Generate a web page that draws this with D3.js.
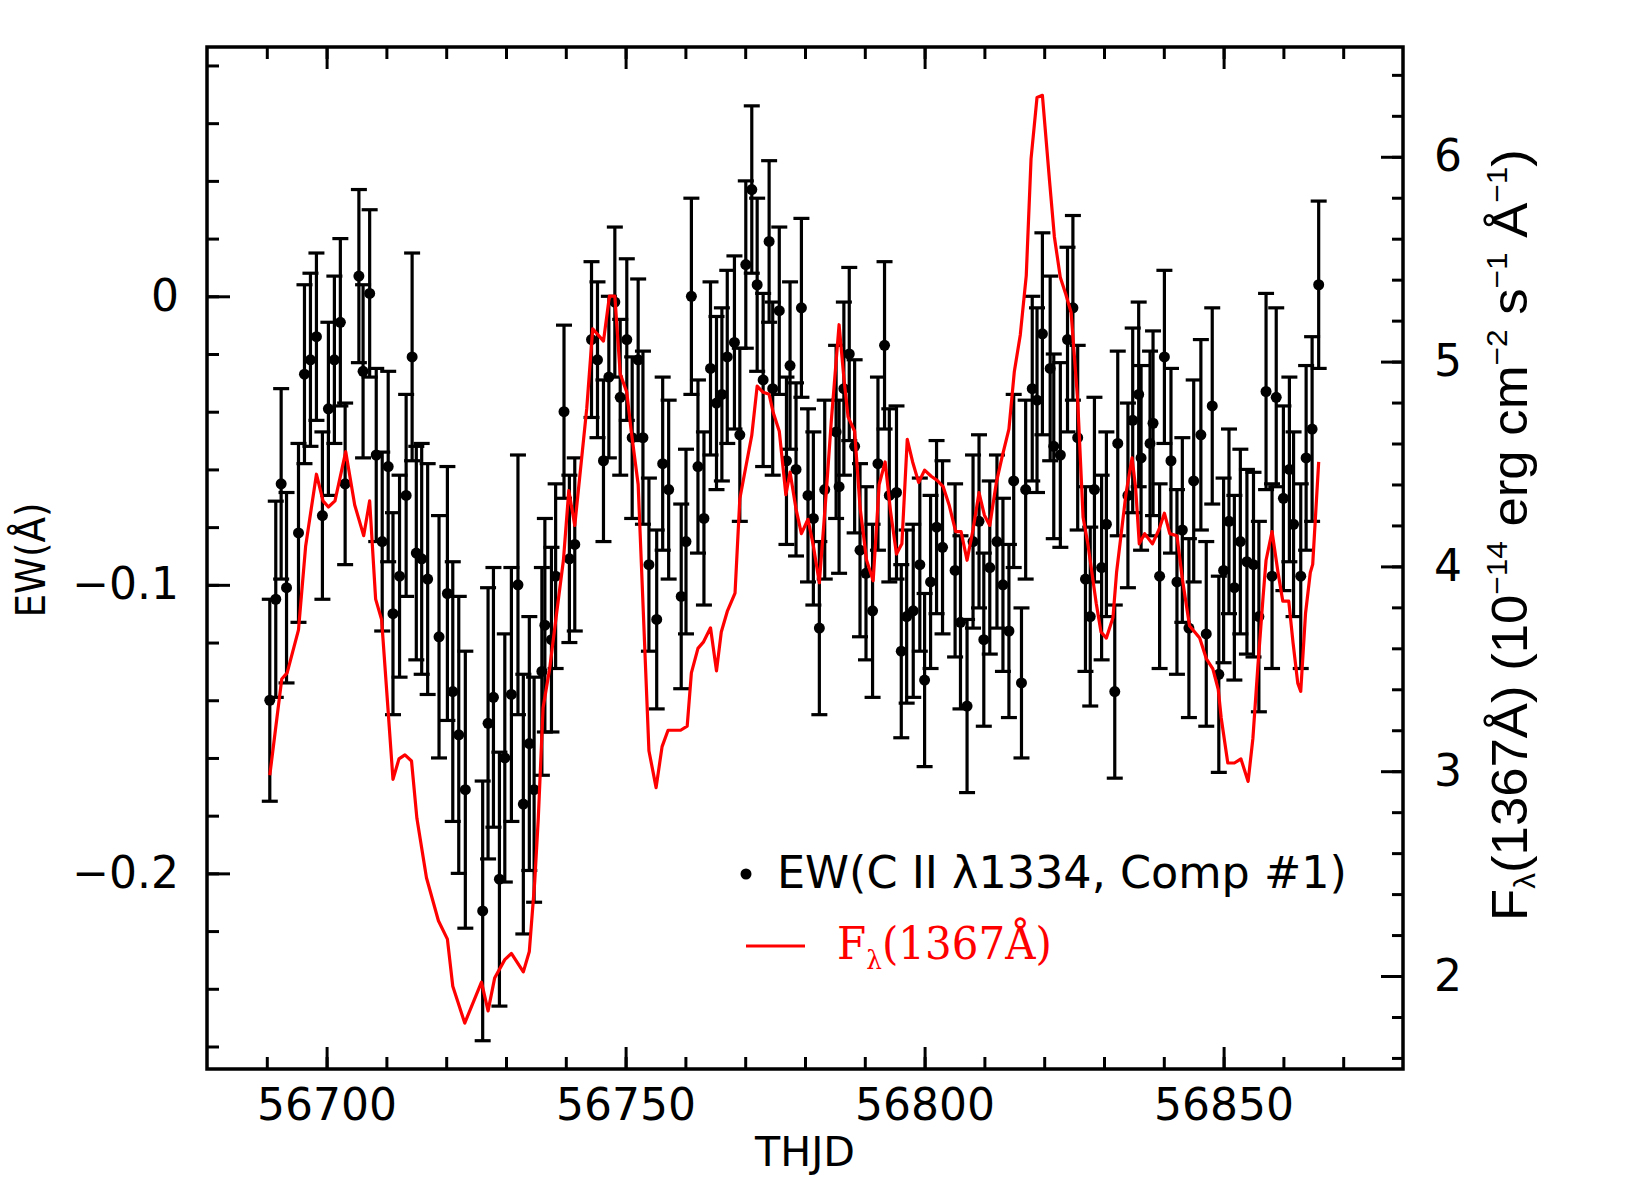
<!DOCTYPE html>
<html>
<head>
<meta charset="utf-8">
<script src="https://cdn.jsdelivr.net/npm/d3@7"></script>
<style>
  body { margin: 0; background: #fff; }
  svg { display: block; }
</style>
</head>
<body>
<svg id="chart" width="1650" height="1198"></svg>
<script>
// EW of C II 1334 component #1
var ewDays = [56690.5, 56691.5, 56692.4, 56693.3, 56695.3, 56696.3, 56697.3, 56698.3, 56699.3, 56700.3,
    56701.3, 56702.3, 56703.1, 56705.4, 56706.1, 56707.2, 56708.3, 56709.3, 56710.3, 56711.1,
    56712.2, 56713.3, 56714.3, 56715.0, 56715.9, 56716.9, 56718.8, 56720.2, 56721.1, 56722.1,
    56723.2, 56726.1, 56727.0, 56727.9, 56728.9, 56729.8, 56730.9, 56732.0, 56732.9, 56733.9,
    56734.7, 56736.0, 56736.5, 56737.6, 56738.3, 56739.7, 56740.6, 56741.5, 56744.3, 56745.3,
    56746.3, 56747.2, 56748.2, 56749.1, 56750.2, 56751.1, 56752.1, 56752.9, 56753.9, 56755.2,
    56756.2, 56757.2, 56759.3, 56760.1, 56761.0, 56762.1, 56763.1, 56764.2, 56765.2, 56766.1,
    56767.0, 56768.2, 56769.1, 56770.1, 56771.1, 56772.0, 56773.0, 56774.0, 56774.6, 56775.7,
    56776.9, 56777.5, 56778.5, 56779.4, 56780.5, 56781.4, 56782.4, 56783.3, 56785.2, 56785.7,
    56786.5, 56787.4, 56788.3, 56789.2, 56790.2, 56791.3, 56792.2, 56793.3, 56794.1, 56795.3,
    56796.1, 56797.0, 56798.1, 56799.2, 56800.0, 56801.0, 56802.0, 56803.0, 56805.1, 56806.0,
    56807.1, 56808.1, 56809.1, 56809.9, 56810.9, 56812.1, 56813.1, 56814.1, 56814.9, 56816.2,
    56816.9, 56818.0, 56818.8, 56819.7, 56821.0, 56821.6, 56822.7, 56823.9, 56824.8, 56825.6,
    56826.9, 56827.7, 56828.4, 56829.6, 56830.4, 56831.8, 56832.3, 56834.0, 56834.8, 56835.8,
    56836.2, 56837.7, 56838.2, 56839.3, 56840.1, 56841.2, 56842.2, 56843.1, 56844.2, 56845.0,
    56846.2, 56847.1, 56848.1, 56849.2, 56850.0, 56850.9, 56851.8, 56852.8, 56853.9, 56855.0,
    56855.9, 56857.1, 56858.1, 56858.8, 56860.0, 56861.0, 56861.7, 56862.9, 56863.8, 56864.8,
    56865.9];

var ewValues = [-0.140, -0.105, -0.065, -0.101, -0.082, -0.027, -0.022, -0.014, -0.076, -0.039,
    -0.022, -0.009, -0.065, 0.007, -0.026, 0.001, -0.055, -0.085, -0.059, -0.110,
    -0.097, -0.069, -0.021, -0.089, -0.091, -0.098, -0.118, -0.103, -0.137, -0.152,
    -0.171, -0.213, -0.148, -0.139, -0.202, -0.160, -0.138, -0.100, -0.176, -0.155,
    -0.171, -0.130, -0.114, -0.119, -0.097, -0.040, -0.091, -0.086, -0.015, -0.022,
    -0.057, -0.028, -0.002, -0.035, -0.015, -0.049, -0.022, -0.049, -0.093, -0.112,
    -0.058, -0.067, -0.104, -0.085, 0.000, -0.059, -0.077, -0.025, -0.037, -0.034,
    -0.021, -0.016, -0.048, 0.011, 0.037, 0.004, -0.029, 0.019, -0.032, -0.005,
    -0.057, -0.024, -0.060, -0.004, -0.069, -0.077, -0.115, -0.067, -0.047, -0.066,
    -0.032, -0.020, -0.052, -0.088, -0.096, -0.109, -0.058, -0.017, -0.069, -0.068,
    -0.123, -0.111, -0.109, -0.093, -0.133, -0.099, -0.080, -0.087, -0.095, -0.113,
    -0.142, -0.085, -0.078, -0.119, -0.094, -0.085, -0.100, -0.116, -0.064, -0.134,
    -0.067, -0.032, -0.036, -0.013, -0.025, -0.052, -0.055, -0.015, -0.004, -0.049,
    -0.098, -0.111, -0.067, -0.094, -0.079, -0.137, -0.051, -0.069, -0.043, -0.034,
    -0.056, -0.051, -0.044, -0.097, -0.021, -0.057, -0.099, -0.081, -0.115, -0.064,
    -0.048, -0.117, -0.038, -0.131, -0.095, -0.078, -0.101, -0.085, -0.092, -0.093,
    -0.111, -0.033, -0.097, -0.035, -0.070, -0.060, -0.079, -0.097, -0.056, -0.046,
    0.004];

var ewErrors = [0.035, 0.034, 0.033, 0.033, 0.031, 0.031, 0.030, 0.029, 0.029, 0.030,
    0.029, 0.029, 0.028, 0.030, 0.030, 0.029, 0.030, 0.031, 0.033, 0.035,
    0.035, 0.035, 0.036, 0.037, 0.040, 0.040, 0.042, 0.044, 0.045, 0.048,
    0.048, 0.045, 0.047, 0.045, 0.044, 0.043, 0.044, 0.045, 0.045, 0.044,
    0.039, 0.036, 0.037, 0.032, 0.032, 0.030, 0.029, 0.030, 0.027, 0.027,
    0.028, 0.028, 0.026, 0.027, 0.028, 0.028, 0.028, 0.030, 0.030, 0.031,
    0.030, 0.031, 0.032, 0.032, 0.034, 0.030, 0.030, 0.030, 0.030, 0.030,
    0.030, 0.030, 0.030, 0.029, 0.029, 0.030, 0.030, 0.028, 0.030, 0.029,
    0.029, 0.029, 0.030, 0.031, 0.030, 0.030, 0.030, 0.031, 0.030, 0.030,
    0.030, 0.030, 0.030, 0.030, 0.030, 0.030, 0.030, 0.029, 0.030, 0.030,
    0.030, 0.030, 0.030, 0.030, 0.030, 0.030, 0.030, 0.030, 0.030, 0.030,
    0.030, 0.030, 0.030, 0.030, 0.030, 0.030, 0.030, 0.030, 0.030, 0.026,
    0.031, 0.032, 0.032, 0.035, 0.032, 0.032, 0.032, 0.032, 0.032, 0.032,
    0.032, 0.031, 0.032, 0.032, 0.032, 0.030, 0.032, 0.032, 0.032, 0.032,
    0.032, 0.032, 0.032, 0.032, 0.030, 0.032, 0.032, 0.032, 0.031, 0.035,
    0.033, 0.032, 0.034, 0.034, 0.032, 0.032, 0.032, 0.032, 0.032, 0.032,
    0.033, 0.034, 0.032, 0.031, 0.032, 0.032, 0.032, 0.032, 0.032, 0.032,
    0.029];

// F_lambda(1367A), 1e-14 erg/cm2/s/A
var fluxDays = [56690.5, 56692.5, 56693.4, 56695.3, 56696.5, 56698.3, 56699.4, 56700.3, 56701.4, 56703.2,
    56704.7, 56706.2, 56707.2, 56708.2, 56709.2, 56710.3, 56711.1, 56712.1, 56713.1, 56714.2,
    56715.1, 56716.7, 56718.7, 56720.2, 56721.1, 56722.0, 56723.1, 56725.9, 56727.0, 56728.1,
    56729.8, 56730.9, 56732.9, 56733.9, 56734.8, 56735.4, 56736.2, 56737.3, 56738.5, 56739.6,
    56740.5, 56741.5, 56743.5, 56744.5, 56746.3, 56747.3, 56748.2, 56749.1, 56750.2, 56750.9,
    56752.1, 56753.9, 56755.1, 56756.1, 56757.1, 56759.2, 56760.3, 56761.0, 56762.1, 56763.0,
    56764.2, 56765.2, 56766.0, 56767.0, 56768.3, 56769.1, 56771.1, 56772.0, 56773.0, 56774.0,
    56774.7, 56775.7, 56776.8, 56777.5, 56778.5, 56779.4, 56780.5, 56781.4, 56782.4, 56783.6,
    56784.4, 56785.7, 56786.5, 56787.2, 56788.3, 56789.2, 56790.3, 56791.4, 56792.4, 56793.4,
    56794.3, 56795.3, 56796.2, 56797.1, 56798.0, 56799.0, 56800.0, 56801.1, 56802.1, 56803.1,
    56804.1, 56805.2, 56806.1, 56807.1, 56808.1, 56809.1, 56810.0, 56810.9, 56812.0, 56813.0,
    56814.1, 56815.0, 56816.0, 56817.0, 56817.8, 56818.8, 56819.7, 56820.9, 56821.7, 56822.7,
    56823.6, 56824.5, 56825.6, 56826.5, 56827.3, 56828.7, 56829.5, 56830.4, 56831.5, 56832.1,
    56833.7, 56834.7, 56835.3, 56835.9, 56836.8, 56838.1, 56839.2, 56840.1, 56841.0, 56842.2,
    56843.1, 56844.3, 56846.0, 56847.1, 56848.2, 56849.1, 56849.6, 56850.7, 56851.8, 56852.9,
    56854.1, 56854.9, 56855.7, 56856.6, 56857.1, 56858.1, 56859.1, 56859.9, 56860.9, 56861.6,
    56862.4, 56862.9, 56863.7, 56864.5, 56864.9, 56865.9];

var fluxValues = [2.98, 3.45, 3.48, 3.69, 4.10, 4.45, 4.32, 4.29, 4.32, 4.56,
    4.30, 4.15, 4.32, 3.84, 3.74, 3.29, 2.96, 3.06, 3.08, 3.05,
    2.77, 2.48, 2.27, 2.18, 1.95, 1.87, 1.77, 1.97, 1.83, 1.99,
    2.08, 2.11, 2.02, 2.12, 2.46, 2.77, 3.31, 3.50, 3.78, 4.03,
    4.37, 4.20, 4.77, 5.16, 5.10, 5.32, 5.32, 4.94, 4.85, 4.67,
    4.40, 3.10, 2.92, 3.12, 3.20, 3.20, 3.22, 3.48, 3.60, 3.63,
    3.70, 3.49, 3.68, 3.78, 3.87, 4.33, 4.64, 4.88, 4.85, 4.84,
    4.75, 4.66, 4.35, 4.46, 4.28, 4.16, 4.23, 4.10, 3.92, 4.38,
    4.71, 5.18, 4.92, 4.73, 4.66, 4.29, 4.03, 3.93, 4.40, 4.51,
    4.27, 4.06, 4.11, 4.62, 4.51, 4.41, 4.47, 4.44, 4.42, 4.39,
    4.30, 4.17, 4.17, 4.03, 4.18, 4.36, 4.25, 4.20, 4.41, 4.54,
    4.67, 4.95, 5.13, 5.42, 5.99, 6.29, 6.30, 5.88, 5.61, 5.41,
    5.33, 5.24, 4.81, 4.24, 4.11, 3.82, 3.68, 3.65, 3.75, 3.97,
    4.36, 4.53, 4.38, 4.11, 4.16, 4.11, 4.18, 4.26, 4.16, 4.15,
    3.94, 3.71, 3.65, 3.55, 3.50, 3.40, 3.26, 3.04, 3.04, 3.06,
    2.95, 3.16, 3.50, 3.85, 4.03, 4.17, 3.97, 3.83, 3.83, 3.63,
    3.43, 3.39, 3.77, 3.97, 4.01, 4.51];

// ticks
var xMajor = [56700, 56750, 56800, 56850];
var xMinor = d3.range(56690, 56880, 10);
var ewMajor = [-0.2, -0.1, 0];
var ewMinor = d3.range(-13, 5).map(function(i){ return +(i * 0.02).toFixed(2); });
var fluxMajor = [2, 3, 4, 5, 6];
var fluxMinor = d3.range(8, 33).map(function(i){ return +(i * 0.2).toFixed(1); });

var svg = d3.select('#chart');
var L = 207, R = 1403, T = 47, B = 1069;
var labelFont = '"DejaVu Sans", sans-serif';

var x = d3.scaleLinear().domain([56680, 56880]).range([L, R]);
var yEW = d3.scaleLinear().domain([-0.2678, 0.0864]).range([B, T]);
var yF = d3.scaleLinear().domain([1.546, 6.536]).range([B, T]);

function styleAxis(g){
    g.select('.domain').remove();
    g.attr('color', '#000');
    g.selectAll('.tick line').attr('stroke-width', 3);
    g.selectAll('.tick text')
        .attr('font-family', labelFont)
        .attr('font-size', 44)
        .attr('fill', '#000');
}

// bottom / top
svg.append('g').attr('transform', 'translate(0,' + B + ')')
    .call(d3.axisBottom(x).tickValues(xMinor).tickSize(-12).tickFormat(''))
    .call(styleAxis);
svg.append('g').attr('transform', 'translate(0,' + B + ')')
    .call(d3.axisBottom(x).tickValues(xMajor).tickSize(-22).tickPadding(20).tickFormat(d3.format('d')))
    .call(styleAxis);
svg.append('g').attr('transform', 'translate(0,' + T + ')')
    .call(d3.axisTop(x).tickValues(xMinor).tickSize(-12).tickFormat(''))
    .call(styleAxis);
svg.append('g').attr('transform', 'translate(0,' + T + ')')
    .call(d3.axisTop(x).tickValues(xMajor).tickSize(-22).tickFormat(''))
    .call(styleAxis);

// left EW
svg.append('g').attr('transform', 'translate(' + L + ',0)')
    .call(d3.axisLeft(yEW).tickValues(ewMinor).tickSize(-12).tickFormat(''))
    .call(styleAxis);
svg.append('g').attr('transform', 'translate(' + L + ',0)')
    .call(d3.axisLeft(yEW).tickValues(ewMajor).tickSize(-23).tickPadding(28)
        .tickFormat(function(d){ return d === 0 ? '0' : d3.format('.1f')(d); }))
    .call(styleAxis);

// right flux
svg.append('g').attr('transform', 'translate(' + R + ',0)')
    .call(d3.axisRight(yF).tickValues(fluxMinor).tickSize(-11).tickFormat(''))
    .call(styleAxis);
svg.append('g').attr('transform', 'translate(' + R + ',0)')
    .call(d3.axisRight(yF).tickValues(fluxMajor).tickSize(-22).tickPadding(31).tickFormat(d3.format('d')))
    .call(styleAxis);

// frame
svg.append('rect')
    .attr('x', L).attr('y', T)
    .attr('width', R - L).attr('height', B - T)
    .attr('fill', 'none')
    .attr('stroke', '#000')
    .attr('stroke-width', 3.5);

// error bars + points
var pts = ewDays.map(function(d, i){
    return {t: d, v: ewValues[i], e: ewErrors[i]};
});
var capW = 8;
var bars = svg.append('g').attr('stroke', '#000').attr('stroke-width', 3.2);
pts.forEach(function(p){
    var px = x(p.t), y0 = yEW(p.v - p.e), y1 = yEW(p.v + p.e);
    bars.append('line').attr('x1', px).attr('x2', px).attr('y1', y0).attr('y2', y1);
    bars.append('line').attr('x1', px - capW).attr('x2', px + capW).attr('y1', y0).attr('y2', y0);
    bars.append('line').attr('x1', px - capW).attr('x2', px + capW).attr('y1', y1).attr('y2', y1);
});
svg.append('g').selectAll('circle')
    .data(pts).enter()
    .append('circle')
    .attr('cx', function(d){ return x(d.t); })
    .attr('cy', function(d){ return yEW(d.v); })
    .attr('r', 5.5)
    .attr('fill', '#000');

// flux line
var line = d3.line()
    .x(function(d){ return x(d[0]); })
    .y(function(d){ return yF(d[1]); });
svg.append('path')
    .datum(fluxDays.map(function(d, i){ return [d, fluxValues[i]]; }))
    .attr('d', line)
    .attr('fill', 'none')
    .attr('stroke', '#ff0000')
    .attr('stroke-width', 3.2)
    .attr('stroke-linejoin', 'round');

// squeeze/stretch a text to a given width
function fit(sel, w){
    var n = sel.node().getBBox().width;
    sel.attr('transform', 'scale(' + (w / n) + ',1)');
}

// axis titles
var gx = svg.append('g').attr('transform', 'translate(805,1166)');
fit(gx.append('text').attr('text-anchor', 'middle')
    .attr('font-family', labelFont).attr('font-size', 40)
    .text('THJD'), 101);

var gl = svg.append('g').attr('transform', 'translate(45,560) rotate(-90)');
fit(gl.append('text').attr('text-anchor', 'middle')
    .attr('font-family', labelFont).attr('font-size', 40)
    .text('EW(Å)'), 115);

var gr = svg.append('g').attr('transform', 'translate(1527,535) rotate(-90)');
var rt = gr.append('text').attr('text-anchor', 'middle')
    .attr('font-family', '"Liberation Sans", Arial, sans-serif').attr('font-size', 50);
rt.append('tspan').text('F');
rt.append('tspan').attr('font-size', 30).attr('dy', 8).text('λ');
rt.append('tspan').attr('dy', -8).text('(1367Å) (10');
rt.append('tspan').attr('font-size', 30).attr('dy', -20).text('−14');
rt.append('tspan').attr('dy', 20).text(' erg cm');
rt.append('tspan').attr('font-size', 30).attr('dy', -20).text('−2');
rt.append('tspan').attr('dy', 20).text(' s');
rt.append('tspan').attr('font-size', 30).attr('dy', -20).text('−1');
rt.append('tspan').attr('dy', 20).text(' Å');
rt.append('tspan').attr('font-size', 30).attr('dy', -20).text('−1');
rt.append('tspan').attr('dy', 20).text(')');
fit(rt, 772);

// legend
svg.append('circle').attr('cx', 746).attr('cy', 874).attr('r', 5.5).attr('fill', '#000');
var g1 = svg.append('g').attr('transform', 'translate(777,888)');
fit(g1.append('text').attr('font-family', labelFont).attr('font-size', 44)
    .attr('fill', '#000').text('EW(C II λ1334, Comp #1)'), 570);

svg.append('line').attr('x1', 746).attr('x2', 805).attr('y1', 946).attr('y2', 946)
    .attr('stroke', '#ff0000').attr('stroke-width', 3.2);
var g2 = svg.append('g').attr('transform', 'translate(837,959)');
var lt = g2.append('text').attr('font-family', '"DejaVu Serif", serif')
    .attr('font-size', 44).attr('fill', '#ff0000');
lt.append('tspan').text('F');
lt.append('tspan').attr('font-size', 26).attr('dy', 10).text('λ');
lt.append('tspan').attr('dy', -10).text('(1367Å)');
fit(lt, 215);
</script>
</body>
</html>
